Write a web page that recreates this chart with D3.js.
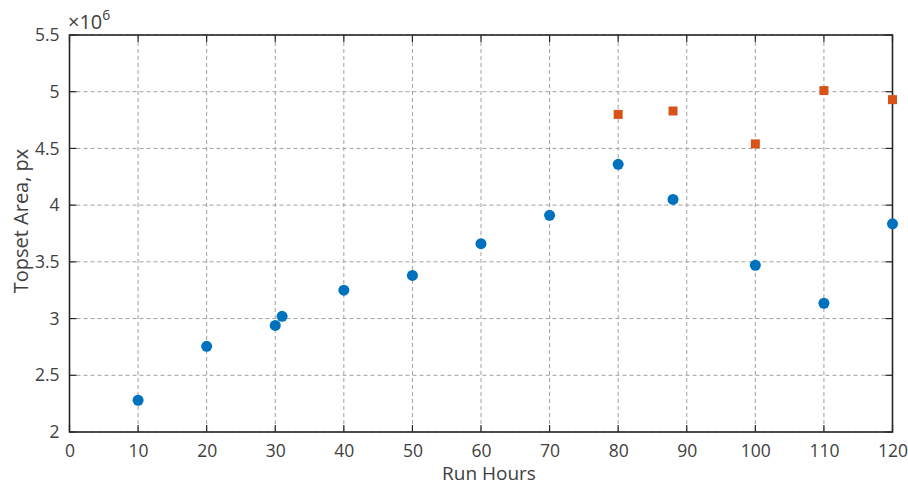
<!DOCTYPE html>
<html>
<head>
<meta charset="utf-8">
<script src="https://cdn.jsdelivr.net/npm/d3@7"></script>
<style>
  body { margin: 0; background: #fff; }
  svg text { font-family: "Open Sans", sans-serif; fill: #404040; }
</style>
</head>
<body>
<svg id="chart" width="908" height="487"></svg>
<script>
// blue series
const run_hours = [10, 20, 30, 31, 40, 50, 60, 70, 80, 88, 100, 110, 120];
const topset_area = [2.28, 2.755, 2.94, 3.02, 3.25, 3.38, 3.66, 3.91, 4.36, 4.05, 3.47, 3.135, 3.835];
// orange series
const run_hours_2 = [80, 88, 100, 110, 120];
const topset_area_2 = [4.80, 4.83, 4.54, 5.01, 4.93];

const x_ticks = d3.range(0, 121, 10);
const y_ticks = [2, 2.5, 3, 3.5, 4, 4.5, 5, 5.5];

const svg = d3.select('#chart');
const pLeft = 69.5, pRight = 892.5, pTop = 35, pBottom = 432;

const x = d3.scaleLinear().domain([0, 120]).range([pLeft, pRight]);
const y = d3.scaleLinear().domain([2, 5.5]).range([pBottom, pTop]);

// grid
const grid = svg.append('g');
grid.selectAll('.gx').data(x_ticks).enter().append('line')
    .attr('x1', d => x(d)).attr('x2', d => x(d))
    .attr('y1', pTop).attr('y2', pBottom)
    .attr('stroke', '#a0a0a0').attr('stroke-width', 1)
    .attr('stroke-dasharray', '4,3');
grid.selectAll('.gy').data(y_ticks).enter().append('line')
    .attr('x1', pLeft).attr('x2', pRight)
    .attr('y1', d => y(d)).attr('y2', d => y(d))
    .attr('stroke', '#a0a0a0').attr('stroke-width', 1)
    .attr('stroke-dasharray', '4,3');

// axes
const xAxis = svg.append('g').attr('transform', 'translate(0,' + pBottom + ')')
    .call(d3.axisBottom(x).tickValues(x_ticks).tickSize(0).tickPadding(13));
const yAxis = svg.append('g').attr('transform', 'translate(' + pLeft + ',0)')
    .call(d3.axisLeft(y).tickValues(y_ticks).tickSize(0).tickPadding(10).tickFormat(d3.format('')));
[xAxis, yAxis].forEach(a => {
    a.select('.domain').remove();
    a.selectAll('text').style('font-size', '17.5px').attr('fill', '#404040');
});

// inner ticks
const tk = svg.append('g').attr('stroke', '#262626').attr('stroke-width', 1.2);
x_ticks.forEach(d => {
    tk.append('line').attr('x1', x(d)).attr('x2', x(d)).attr('y1', pBottom).attr('y2', pBottom - 7);
    tk.append('line').attr('x1', x(d)).attr('x2', x(d)).attr('y1', pTop).attr('y2', pTop + 7);
});
y_ticks.forEach(d => {
    tk.append('line').attr('x1', pLeft).attr('x2', pLeft + 7).attr('y1', y(d)).attr('y2', y(d));
    tk.append('line').attr('x1', pRight).attr('x2', pRight - 7).attr('y1', y(d)).attr('y2', y(d));
});

// box
svg.append('rect')
    .attr('x', pLeft).attr('y', pTop)
    .attr('width', pRight - pLeft).attr('height', pBottom - pTop)
    .attr('fill', 'none').attr('stroke', '#262626').attr('stroke-width', 1.6);

// labels
svg.append('text')
    .attr('x', 489).attr('y', 480)
    .attr('text-anchor', 'middle').style('font-size', '19px')
    .text('Run Hours');
svg.append('text')
    .attr('transform', 'translate(28,221) rotate(-90)')
    .attr('text-anchor', 'middle').style('font-size', '20px')
    .text('Topset Area, px');
const exp = svg.append('text').attr('x', 68).attr('y', 29).style('font-size', '20px');
exp.append('tspan').text('\u00d710');
exp.append('tspan').attr('dy', -9).style('font-size', '14px').text('6');

// points
svg.append('g').selectAll('circle')
    .data(run_hours.map((h, i) => [h, topset_area[i]]))
    .enter().append('circle')
    .attr('cx', d => x(d[0])).attr('cy', d => y(d[1]))
    .attr('r', 5.5).attr('fill', '#0072BD');

svg.append('g').selectAll('rect')
    .data(run_hours_2.map((h, i) => [h, topset_area_2[i]]))
    .enter().append('rect')
    .attr('x', d => x(d[0]) - 4.5).attr('y', d => y(d[1]) - 4.5)
    .attr('width', 9).attr('height', 9).attr('fill', '#D95319');
</script>
</body>
</html>
